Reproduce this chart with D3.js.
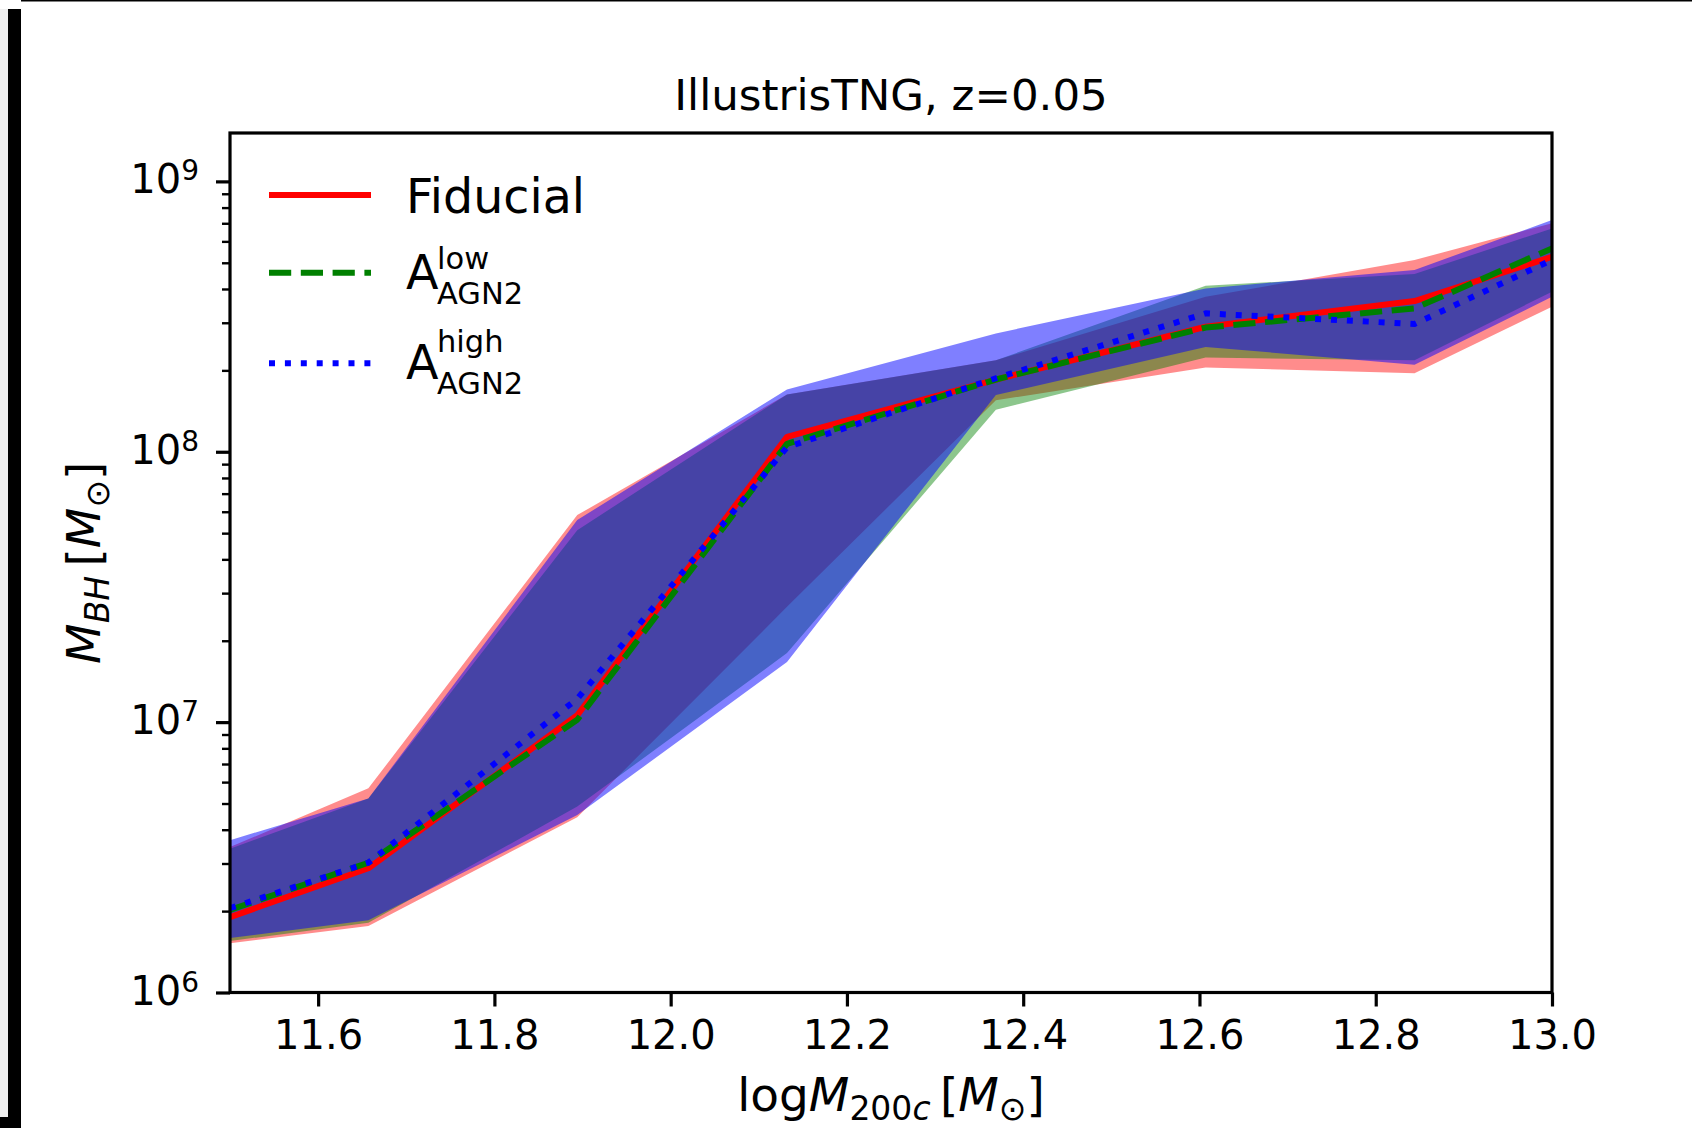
<!DOCTYPE html>
<html>
<head>
<meta charset="utf-8">
<script src="https://cdn.jsdelivr.net/npm/d3@7"></script>
<style>
  html, body { margin: 0; padding: 0; background: #ffffff; }
  svg { display: block; }
  text { font-family: "DejaVu Sans", sans-serif; fill: #000; }
</style>
</head>
<body>
<script>
// ---------------- data ----------------
const massBins = [11.5, 11.657, 11.894, 12.132, 12.369, 12.607, 12.844, 13.0];

const fiducialMedian = [1.90e6, 2.88e6, 1.06e7, 1.135e8, 1.85e8, 2.90e8, 3.61e8, 5.26e8];
const fiducialLow    = [1.52e6, 1.76e6, 4.45e6, 2.67e7, 1.55e8, 2.05e8, 1.95e8, 3.44e8];
const fiducialHigh   = [3.45e6, 5.69e6, 5.83e7, 1.63e8, 2.18e8, 3.74e8, 5.12e8, 7.00e8];

const agnLowMedian = [2.02e6, 3.02e6, 1.02e7, 1.07e8, 1.85e8, 2.88e8, 3.39e8, 5.65e8];
const agnLowLow    = [1.55e6, 1.81e6, 4.87e6, 1.80e7, 1.43e8, 2.23e8, 2.18e8, 3.91e8];
const agnLowHigh   = [3.40e6, 5.22e6, 5.13e7, 1.63e8, 2.18e8, 4.11e8, 4.54e8, 6.70e8];

const agnHighMedian = [2.05e6, 3.02e6, 1.22e7, 1.04e8, 1.87e8, 3.25e8, 2.97e8, 5.12e8];
const agnHighLow    = [1.59e6, 1.85e6, 4.53e6, 1.67e7, 1.62e8, 2.44e8, 2.10e8, 3.74e8];
const agnHighHigh   = [3.66e6, 5.22e6, 5.59e7, 1.70e8, 2.74e8, 4.02e8, 4.70e8, 7.20e8];

const xTicks = [11.6, 11.8, 12.0, 12.2, 12.4, 12.6, 12.8, 13.0];
const yTickExponents = [6, 7, 8, 9];

const titleText = "IllustrisTNG, z=0.05";

// ---------------- layout ----------------
const W = 1692, H = 1128;
const L = 230, R = 1552, T = 133, B = 992.5;

const svg = d3.select("body").append("svg").attr("width", W).attr("height", H);
svg.append("rect").attr("width", W).attr("height", H).attr("fill", "#fff");

// page border decorations
svg.append("rect").attr("x", 21).attr("y", 0).attr("width", W - 21).attr("height", 1.5).attr("fill", "#000");
svg.append("rect").attr("x", 0).attr("y", 9).attr("width", 8).attr("height", 1108).attr("fill", "#efefef");
svg.append("rect").attr("x", 8).attr("y", 9).attr("width", 13).attr("height", H - 9).attr("fill", "#000");
svg.append("rect").attr("x", 0).attr("y", 1117).attr("width", 21).attr("height", 11).attr("fill", "#000");

const x = d3.scaleLinear().domain([11.5, 13.0]).range([L, R]);
const y = d3.scaleLog().domain([1e6, 1.51e9]).range([B, T]);

svg.append("clipPath").attr("id", "plotclip")
  .append("rect").attr("x", L).attr("y", T).attr("width", R - L).attr("height", B - T);

const plot = svg.append("g").attr("clip-path", "url(#plotclip)");

const series = [
  { name: "fid",  color: "#ff0000", alpha: 0.45, med: fiducialMedian, lo: fiducialLow, hi: fiducialHigh, dash: null },
  { name: "low",  color: "#008000", alpha: 0.45, med: agnLowMedian,   lo: agnLowLow,   hi: agnLowHigh,   dash: "22.2,9.6" },
  { name: "high", color: "#0000ff", alpha: 0.5,  med: agnHighMedian,  lo: agnHighLow,  hi: agnHighHigh,  dash: "6,9.9" }
];

const area = d3.area()
  .x(d => x(d.m)).y0(d => y(d.lo)).y1(d => y(d.hi));
const line = d3.line().x(d => x(d.m)).y(d => y(d.v));

series.forEach(s => {
  const pts = massBins.map((m, i) => ({ m, lo: s.lo[i], hi: s.hi[i] }));
  plot.append("path").attr("d", area(pts))
    .attr("fill", s.color).attr("fill-opacity", s.alpha).attr("stroke", "none");
});
series.forEach(s => {
  const pts = massBins.map((m, i) => ({ m, v: s.med[i] }));
  const p = plot.append("path").attr("d", line(pts))
    .attr("fill", "none").attr("stroke", s.color).attr("stroke-width", 6)
    .attr("stroke-linecap", "butt").attr("stroke-linejoin", "round");
  if (s.dash) p.attr("stroke-dasharray", s.dash);
});

// ---------------- axes ----------------
const xAxis = svg.append("g").attr("transform", `translate(0,${B})`)
  .call(d3.axisBottom(x).tickValues(xTicks).tickFormat(d3.format(".1f"))
    .tickSizeInner(14).tickSizeOuter(0).tickPadding(14));
xAxis.select(".domain").remove();
xAxis.selectAll(".tick line").attr("stroke", "#000").attr("stroke-width", 3.2);
xAxis.selectAll(".tick text").attr("font-size", 40).attr("font-family", "DejaVu Sans");

const minorVals = [];
yTickExponents.forEach(e => { for (let k = 2; k <= 9; k++) { const v = k * Math.pow(10, e); if (v <= 1.51e9) minorVals.push(v); } });
const yMinor = svg.append("g").attr("transform", `translate(${L},0)`)
  .call(d3.axisLeft(y).tickValues(minorVals).tickFormat("").tickSizeInner(8).tickSizeOuter(0));
yMinor.select(".domain").remove();
yMinor.selectAll(".tick line").attr("stroke", "#000").attr("stroke-width", 2.4);

const yMajor = svg.append("g").attr("transform", `translate(${L},0)`)
  .call(d3.axisLeft(y).tickValues(yTickExponents.map(e => Math.pow(10, e))).tickFormat("")
    .tickSizeInner(14).tickSizeOuter(0));
yMajor.select(".domain").remove();
yMajor.selectAll(".tick line").attr("stroke", "#000").attr("stroke-width", 3.2);

yTickExponents.forEach(e => {
  const t = svg.append("text").attr("x", 199).attr("y", y(Math.pow(10, e)) + 12)
    .attr("text-anchor", "end").attr("font-size", 40);
  t.append("tspan").text("10");
  t.append("tspan").attr("font-size", 28).attr("dy", -13).text(String(e));
});

// frame
svg.append("rect").attr("x", L).attr("y", T).attr("width", R - L).attr("height", B - T)
  .attr("fill", "none").attr("stroke", "#000").attr("stroke-width", 3.2);

// title
svg.append("text").attr("x", (L + R) / 2).attr("y", 110).attr("text-anchor", "middle")
  .attr("font-size", 43.5).text(titleText);

// x label: log M_{200c} [M_sun]
const xl = svg.append("text").attr("x", (L + R) / 2).attr("y", 1111)
  .attr("text-anchor", "middle").attr("font-size", 47);
xl.append("tspan").text("log");
xl.append("tspan").attr("font-style", "italic").text("M");
xl.append("tspan").attr("font-size", 33).attr("dy", 9).text("200");
xl.append("tspan").attr("font-size", 33).attr("font-style", "italic").text("c");
xl.append("tspan").attr("dy", -9).text("\u2009[");
xl.append("tspan").attr("font-style", "italic").text("M");
xl.append("tspan").attr("font-size", 33).attr("dy", 9).text("\u2299");
xl.append("tspan").attr("dy", -9).text("]");

// y label: M_BH [M_sun]
const yl = svg.append("text").attr("transform", `translate(100,${(T + B) / 2}) rotate(-90)`)
  .attr("text-anchor", "middle").attr("font-size", 47);
yl.append("tspan").attr("font-style", "italic").text("M");
yl.append("tspan").attr("font-size", 33).attr("font-style", "italic").attr("dy", 9).text("BH");
yl.append("tspan").attr("dy", -9).text("\u2009[");
yl.append("tspan").attr("font-style", "italic").text("M");
yl.append("tspan").attr("font-size", 33).attr("dy", 9).text("\u2299");
yl.append("tspan").attr("dy", -9).text("]");

// ---------------- legend ----------------
const legend = svg.append("g");
const legY = [195, 272.7, 363.3];
series.forEach((s, i) => {
  const l = legend.append("line").attr("x1", 269).attr("x2", 371).attr("y1", legY[i]).attr("y2", legY[i])
    .attr("stroke", s.color).attr("stroke-width", 6).attr("stroke-linecap", "butt");
  if (s.dash) l.attr("stroke-dasharray", s.dash);
});
legend.append("text").attr("x", 406).attr("y", 212.7).attr("font-size", 47.5).text("Fiducial");

// A^{sup}_{AGN2} as a single text element
function agnLabel(baseY, sup, supDy, subDy) {
  const t = legend.append("text").attr("x", 406).attr("y", baseY).attr("font-size", 47.5);
  t.append("tspan").text("A");
  t.append("tspan").attr("x", 437).attr("dy", supDy).attr("font-size", 30.5).text(sup);
  t.append("tspan").attr("x", 437).attr("dy", subDy - supDy).attr("font-size", 30.5).text("AGN2");
}
agnLabel(289, "low", -20.5, 14.5);
agnLabel(379, "high", -27.5, 14.5);
</script>
</body>
</html>
